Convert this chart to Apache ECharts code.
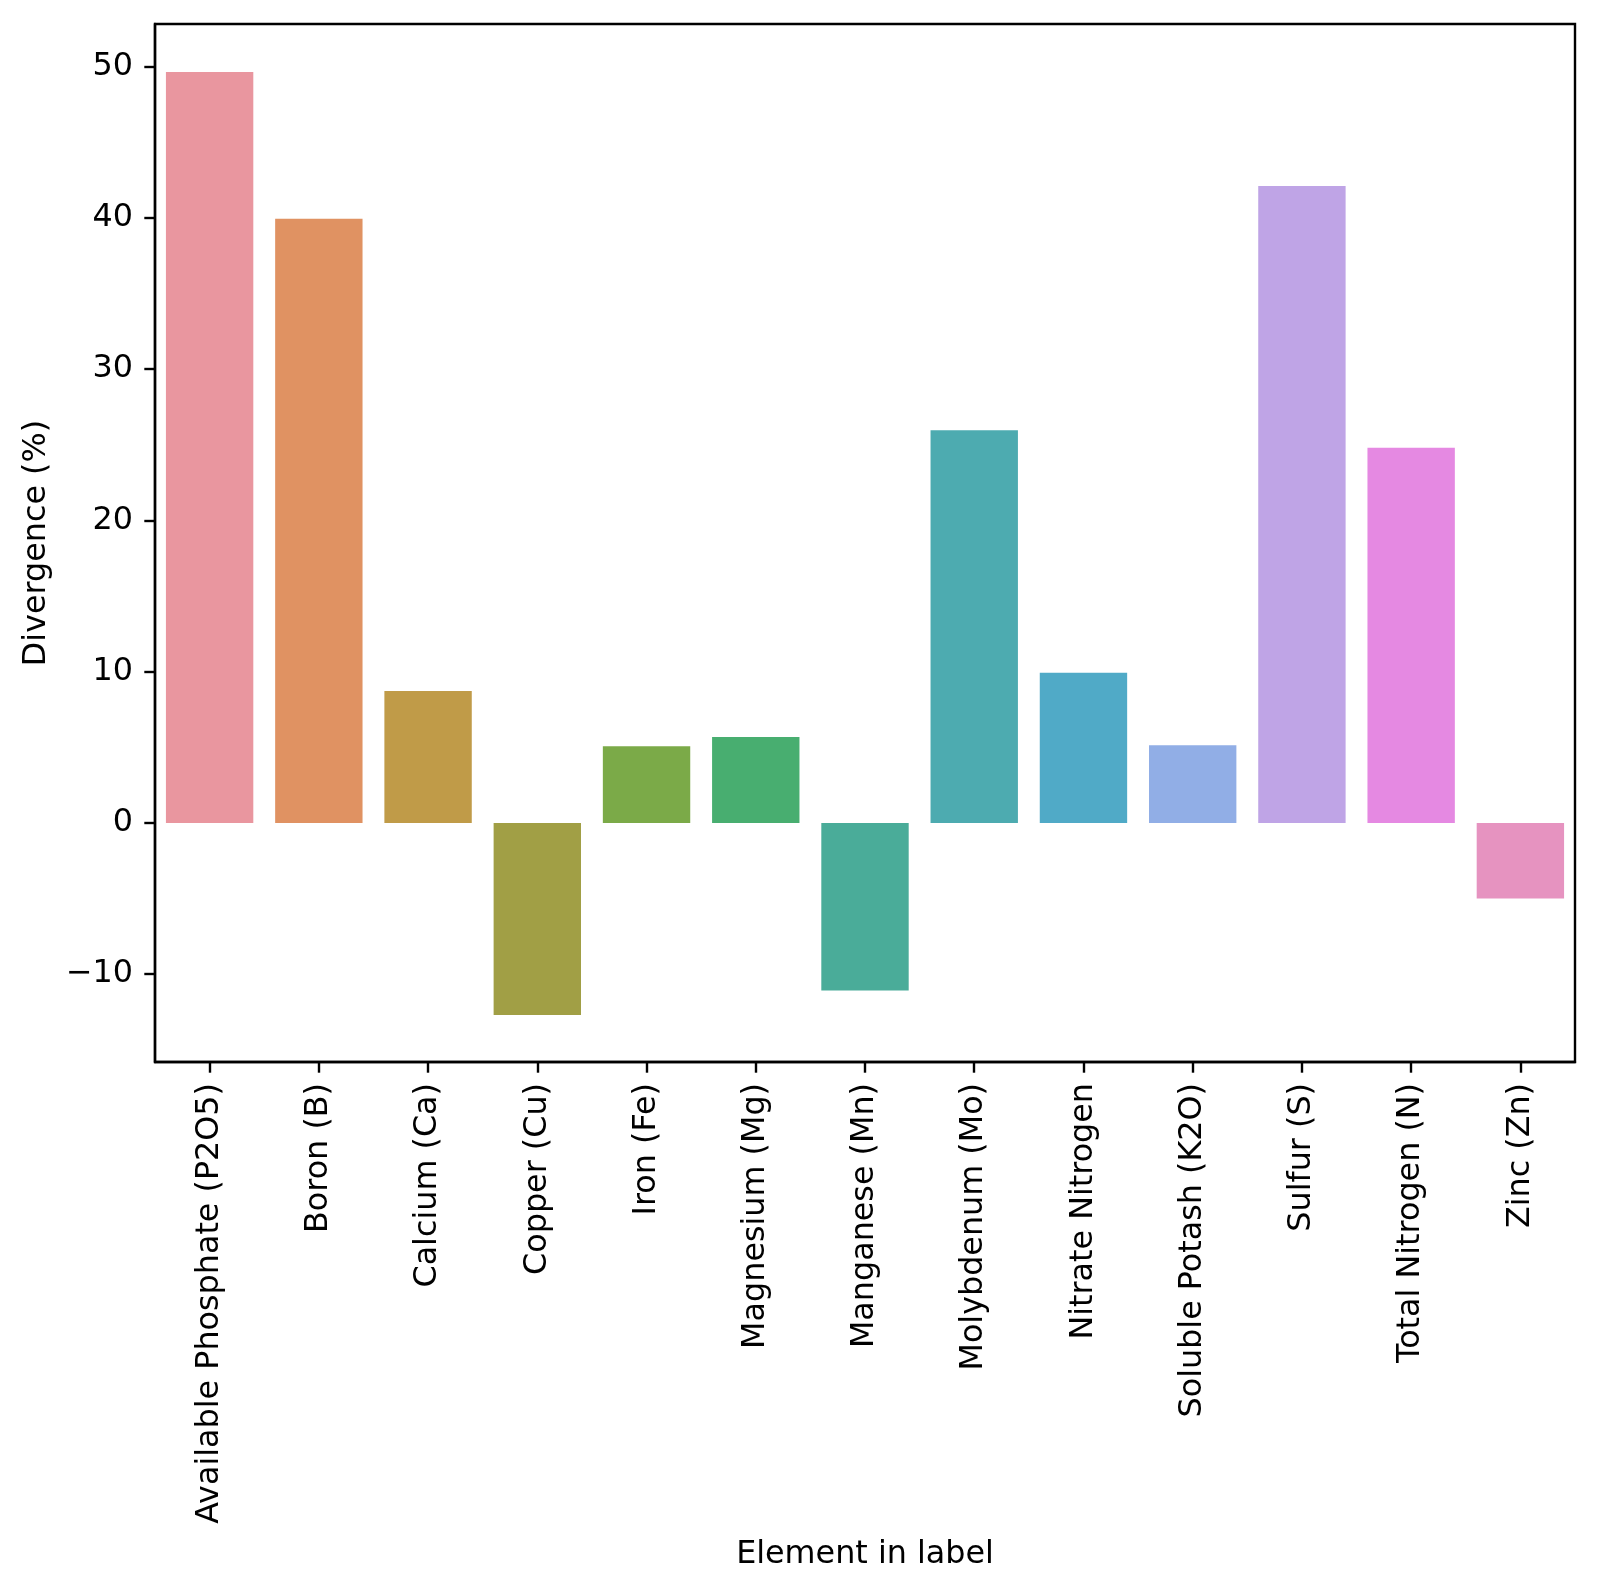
<!DOCTYPE html>
<html>
<head>
<meta charset="utf-8">
<script src="https://cdn.jsdelivr.net/npm/echarts@6/dist/echarts.min.js"></script>
<style>
html,body{margin:0;padding:0;background:#fff;}
#chart{width:1600px;height:1594px;}
</style>
</head>
<body>
<div id="chart"></div>
<script>
const categories = ["Available Phosphate (P2O5)","Boron (B)","Calcium (Ca)","Copper (Cu)","Iron (Fe)","Magnesium (Mg)","Manganese (Mn)","Molybdenum (Mo)","Nitrate Nitrogen","Soluble Potash (K2O)","Sulfur (S)","Total Nitrogen (N)","Zinc (Zn)"];
const values = [49.62, 39.93, 8.72, -12.70, 5.07, 5.68, -11.08, 25.95, 9.93, 5.14, 42.09, 24.80, -5.0];
const colors = ["#e9969f","#e09262","#c09b48","#a19f45","#7baa48","#48ae70","#4aac99","#4dabb0","#50aac7","#91aee6","#bfa4e6","#e589e2","#e693c0"];
const yTicks = [-10, 0, 10, 20, 30, 40, 50];
const yMin = -15.8, yMax = 52.8;

const font = "DejaVu Sans";
const fs = 31.8;
const chart = echarts.init(document.getElementById('chart'), null, {renderer:'canvas'});
chart.setOption({
  animation: false,
  backgroundColor: '#fff',
  grid: {left:155, right:25, top:24, bottom:532, show:true, borderColor:'#000', borderWidth:2.4, backgroundColor:'transparent'},
  xAxis: {
    type:'category', data: categories,
    axisLine:{show:true, onZero:false, lineStyle:{color:'#000', width:2.4}},
    axisTick:{show:true, alignWithLabel:true, length:10.7, lineStyle:{color:'#000', width:2.4}},
    axisLabel:{rotate:90, margin:21, color:'#000', fontFamily:font, fontSize:fs, interval:0},
    name:'Element in label', nameLocation:'middle', nameGap:477,
    nameTextStyle:{color:'#000', fontFamily:font, fontSize:fs}
  },
  yAxis: {
    type:'value', min:yMin, max:yMax,
    splitLine:{show:false},
    axisLine:{show:true, lineStyle:{color:'#000', width:2.4}},
    axisTick:{show:true, length:10.7, customValues:yTicks, lineStyle:{color:'#000', width:2.4}},
    axisLabel:{margin:22, color:'#000', fontFamily:font, fontSize:fs, customValues:yTicks,
      formatter: v => String(v).replace('-', '\u2212')},
    name:'Divergence (%)', nameLocation:'middle', nameGap:102, nameRotate:90,
    nameTextStyle:{color:'#000', fontFamily:font, fontSize:fs}
  },
  series: [{
    type:'bar',
    data: values.map((v,i)=>({value:v, itemStyle:{color:colors[i]}})),
    barCategoryGap:'20%'
  }]
});
</script>
</body>
</html>
